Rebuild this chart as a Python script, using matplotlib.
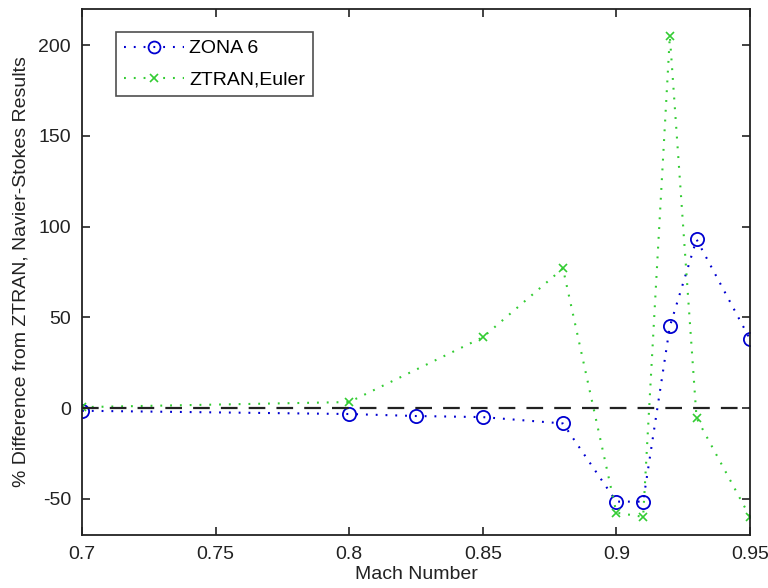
import matplotlib
matplotlib.use("Agg")
import matplotlib.pyplot as plt

plt.rcParams['font.family'] = ['Liberation Sans', 'DejaVu Sans']
plt.rcParams['axes.unicode_minus'] = False

mach_zona = [0.7, 0.8, 0.825, 0.85, 0.88, 0.9, 0.91, 0.92, 0.93, 0.95]
zona6 = [-1.5, -3.3, -4.4, -5.0, -8.5, -51.6, -51.6, 45.0, 93.0, 38.0]

mach_euler = [0.7, 0.8, 0.85, 0.88, 0.9, 0.91, 0.92, 0.93, 0.95]
ztran_euler = [0.5, 3.3, 39.0, 77.0, -57.7, -60.0, 205.0, -5.5, -60.0]

ref_x = [0.7, 0.95]
ref_y = [0, 0]

dot = (0, (0.9, 3.8))

fig = plt.figure(figsize=(7.68, 5.88), dpi=100)
ax = fig.add_axes([82/768, 1-535/588, (750-82)/768, (535-9)/588])

ax.plot(mach_zona, zona6, linestyle=dot, color='#0000d0', marker='o',
        markersize=9.5, markerfacecolor='none', markeredgewidth=1.3,
        linewidth=1.5, label='ZONA 6')
ax.plot(mach_euler, ztran_euler, linestyle=dot, color='#33cc33', marker='x',
        markersize=6, markeredgewidth=1.2, linewidth=1.5, label='ZTRAN,Euler')
ax.plot(ref_x, ref_y, linestyle=(0, (7.5, 5)), color='#222222', linewidth=1.6)

ax.set_xlim(0.7, 0.95)
ax.set_ylim(-70, 220)
ax.set_xticks([0.7, 0.75, 0.8, 0.85, 0.9, 0.95])
ax.set_xticklabels(['0.7', '0.75', '0.8', '0.85', '0.9', '0.95'])
ax.set_yticks([-50, 0, 50, 100, 150, 200])
ax.tick_params(direction='in', top=True, right=True, length=6, width=1.2,
               labelsize=14, pad=8, colors='#222222')
for s in ax.spines.values():
    s.set_linewidth(1.3)
    s.set_color('#222222')

ax.set_xlabel('Mach Number', fontsize=14, labelpad=2, color='#222222')
ax.set_ylabel('% Difference from ZTRAN, Navier-Stokes Results', fontsize=14,
              labelpad=6, color='#222222')

leg = ax.legend(loc='upper left', bbox_to_anchor=(116/768, 1-32/588),
                bbox_transform=fig.transFigure, fontsize=14, frameon=True,
                fancybox=False, edgecolor='#222222', handlelength=3.1,
                borderpad=0.4, labelspacing=0.7, handletextpad=0.25,
                borderaxespad=0, markerscale=0.9)
leg.get_frame().set_linewidth(1.2)

fig.savefig('out.png', dpi=100, facecolor='white')
